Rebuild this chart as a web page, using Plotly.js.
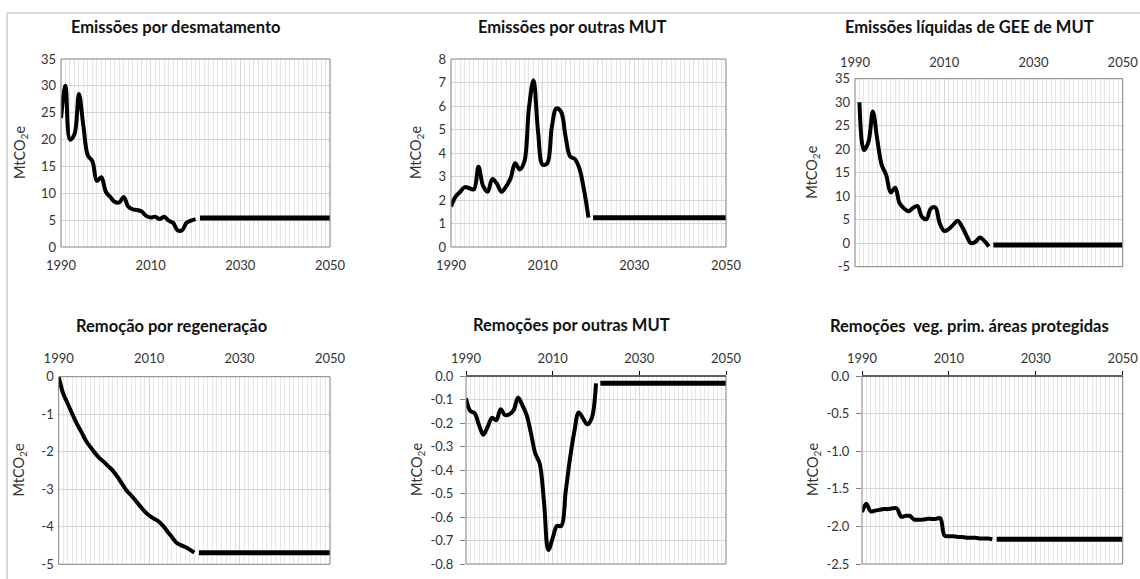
<!DOCTYPE html>
<html>
<head>
<meta charset="utf-8">
<script src="https://cdn.plot.ly/plotly-3.0.1.min.js"></script>
<style>html,body{margin:0;padding:0;background:#fff;}#chart{width:1140px;height:579px;}</style>
</head>
<body>
<div id="chart"></div>
<script>
// ---------- DATA ----------
const histYears = [1990,1991,1992,1993,1994,1995,1996,1997,1998,1999,2000,2001,2002,2003,2004,2005,2006,2007,2008,2009,2010,2011,2012,2013,2014,2015,2016,2017,2018,2019,2020];
const netYears  = [1991,1992,1993,1994,1995,1996,1997,1998,1999,2000,2001,2002,2003,2004,2005,2006,2007,2008,2009,2010,2011,2012,2013,2014,2015,2016,2017,2018,2019,2020];
const projYears = [2021, 2050];

const desmatamento = [24,30,20,21,28.5,22.5,17,16,12.3,13,10.3,9.3,8.4,8.3,9.3,7.5,7.0,6.9,6.6,5.8,5.5,5.65,5.2,5.65,4.9,4.5,3.1,3.1,4.5,4.9,5.2];
const desmatamentoProj = [5.4, 5.4];

const outrasMUT = [1.72,2.14,2.35,2.55,2.5,2.45,3.42,2.6,2.35,2.89,2.7,2.35,2.57,2.92,3.56,3.3,3.63,5.9,7.1,4.9,3.5,3.56,5.1,5.9,5.76,4.7,3.85,3.75,3.35,2.45,1.25];
const outrasMUTProj = [1.25, 1.25];

const liquidas = [30,19.8,21.5,28,22,16.6,14.5,10.8,11.8,8.5,7.4,6.8,7.5,7.9,5.6,5.1,7.4,7.6,4.2,2.6,3.0,3.9,4.8,3.5,1.6,0.0,0.3,1.2,0.5,-0.7];
const liquidasProj = [-0.38, -0.38];

const regeneracao = [0,-0.45,-0.72,-0.99,-1.25,-1.47,-1.7,-1.87,-2.03,-2.17,-2.27,-2.39,-2.51,-2.67,-2.85,-3.03,-3.16,-3.3,-3.45,-3.59,-3.7,-3.78,-3.85,-3.96,-4.12,-4.27,-4.42,-4.49,-4.54,-4.61,-4.69];
const regeneracaoProj = [-4.69, -4.69];

const remOutras = [-0.095,-0.149,-0.159,-0.209,-0.25,-0.216,-0.178,-0.188,-0.141,-0.166,-0.163,-0.145,-0.092,-0.124,-0.166,-0.244,-0.33,-0.372,-0.535,-0.74,-0.69,-0.638,-0.638,-0.493,-0.351,-0.237,-0.155,-0.18,-0.206,-0.18,-0.031];
const remOutrasProj = [-0.031, -0.031];

const protegidas = [-1.81,-1.70,-1.80,-1.79,-1.78,-1.77,-1.77,-1.76,-1.76,-1.87,-1.86,-1.86,-1.91,-1.91,-1.91,-1.9,-1.9,-1.9,-1.89,-2.12,-2.13,-2.13,-2.14,-2.14,-2.15,-2.15,-2.15,-2.16,-2.16,-2.16,-2.17];
const protegidasProj = [-2.17, -2.17];

// tick labels
const xTickVals = [1990, 2010, 2030, 2050];
const xTickText = ['1990', '2010', '2030', '2050'];
const y1TickVals = [0,5,10,15,20,25,30,35];
const y1TickText = ['0','5','10','15','20','25','30','35'];
const y2TickVals = [0,1,2,3,4,5,6,7,8];
const y2TickText = ['0','1','2','3','4','5','6','7','8'];
const y3TickVals = [-5,0,5,10,15,20,25,30,35];
const y3TickText = ['-5','0','5','10','15','20','25','30','35'];
const y4TickVals = [-5,-4,-3,-2,-1,0];
const y4TickText = ['-5','-4','-3','-2','-1','0'];
const y5TickVals = [-0.8,-0.7,-0.6,-0.5,-0.4,-0.3,-0.2,-0.1,0];
const y5TickText = ['-0.8','-0.7','-0.6','-0.5','-0.4','-0.3','-0.2','-0.1','0.0'];
const y6TickVals = [-2.5,-2.0,-1.5,-1.0,-0.5,0];
const y6TickText = ['-2.5','-2.0','-1.5','-1.0','-0.5','0.0'];

const titles = ['Emissões por desmatamento','Emissões por outras MUT','Emissões líquidas de GEE de MUT',
                'Remoção por regeneração','Remoções por outras MUT','Remoções\u00a0 veg. prim. áreas protegidas'];
const yTitle = 'MtCO<sub>2</sub>e';

// ---------- LAYOUT ----------
const W = 1140, H = 579;
const FONT = 'Lato, "Open Sans", sans-serif';
const panels = [
  {hx: histYears, hy: desmatamento, py: desmatamentoProj, yr:[0,35], tv:y1TickVals, tt:y1TickText, box:[61,330,59,247], side:'bottom', xso:9, title:[175,27], ytl:20, crossTop:false},
  {hx: histYears, hy: outrasMUT, py: outrasMUTProj, yr:[0,8], tv:y2TickVals, tt:y2TickText, box:[451,726,59,247], side:'bottom', xso:9, title:[572,27], ytl:416, crossTop:false},
  {hx: netYears, hy: liquidas, py: liquidasProj, yr:[-5,35], tv:y3TickVals, tt:y3TickText, box:[855,1122.7,78.7,266.7], side:'top', xso:8, title:[969,27], ytl:813, crossTop:false},
  {hx: histYears, hy: regeneracao, py: regeneracaoProj, yr:[-5,0], tv:y4TickVals, tt:y4TickText, box:[58.7,330,376.7,564.3], side:'top', xso:10, title:[171,326], ytl:19, crossTop:false},
  {hx: histYears, hy: remOutras, py: remOutrasProj, yr:[-0.8,0], tv:y5TickVals, tt:y5TickText, box:[466,726,376,564], side:'top', xso:3, title:[571,325], ytl:417, crossTop:true},
  {hx: histYears, hy: protegidas, py: protegidasProj, yr:[-2.5,0], tv:y6TickVals, tt:y6TickText, box:[862,1122.7,376,564], side:'top', xso:3, title:[969,326], ytl:813, crossTop:true}
];

const data = [];
const layout = {
  width: W, height: H,
  margin: {l:0, r:0, t:0, b:0},
  paper_bgcolor: '#ffffff', plot_bgcolor: '#ffffff',
  showlegend: false,
  font: {family: FONT, color: '#333333', size: 13},
  annotations: [], shapes: []
};

panels.forEach((p, i) => {
  const n = i + 1;
  const xa = n === 1 ? 'x' : 'x' + n;
  const ya = n === 1 ? 'y' : 'y' + n;
  const [l, r, t, b] = p.box;
  data.push({x: p.hx, y: p.hy, xaxis: xa, yaxis: ya, type: 'scatter', mode: 'lines',
             line: {color: '#000000', width: 4, shape: 'spline', smoothing: 1}, hoverinfo: 'skip'});
  data.push({x: projYears, y: p.py, xaxis: xa, yaxis: ya, type: 'scatter', mode: 'lines',
             line: {color: '#000000', width: 5}, hoverinfo: 'skip'});
  layout['xaxis' + (n === 1 ? '' : n)] = {
    domain: [l / W, r / W], anchor: ya, range: [1990, 2050], side: p.side,
    tickmode: 'array', tickvals: xTickVals, ticktext: xTickText,
    showgrid: true, gridcolor: '#d6d6d6', gridwidth: 1,
    minor: {tickmode: 'linear', tick0: 1990, dtick: 1, showgrid: true, gridcolor: '#e6e6e6', gridwidth: 1},
    zeroline: false, showline: false,
    ticks: p.crossTop ? 'outside' : '', ticklen: 4, tickcolor: '#000000',
    ticklabelstandoff: p.xso,
    tickfont: {family: FONT, size: 13, color: '#333333'}, fixedrange: true
  };
  layout['yaxis' + (n === 1 ? '' : n)] = {
    domain: [1 - b / H, 1 - t / H], anchor: xa, range: p.yr,
    tickmode: 'array', tickvals: p.tv, ticktext: p.tt,
    showgrid: true, gridcolor: '#d6d6d6', gridwidth: 1,
    zeroline: false, showline: false,
    ticks: p.crossTop ? 'outside' : '', ticklen: 5, tickcolor: '#7f7f7f',
    ticklabelstandoff: 4,
    tickfont: {family: FONT, size: 13, color: '#333333'}, fixedrange: true
  };
  layout.shapes.push({type: 'rect', xref: xa + ' domain', yref: ya + ' domain', x0: 0, x1: 1, y0: 0, y1: 1,
                      line: {color: '#7f7f7f', width: 1}, layer: 'above'});
  if (p.crossTop) {
    layout.shapes.push({type: 'line', xref: xa + ' domain', yref: ya + ' domain', x0: 0, x1: 1, y0: 1, y1: 1,
                        line: {color: '#000000', width: 1.2}, layer: 'above'});
  }
  layout.annotations.push({text: '<b>' + titles[i] + '</b>', xref: 'paper', yref: 'paper',
    x: p.title[0] / W, y: 1 - p.title[1] / H, xanchor: 'center', yanchor: 'middle', showarrow: false,
    font: {family: FONT, size: 16.5, color: '#111111'}});
  layout.annotations.push({text: yTitle, xref: 'paper', yref: 'paper', textangle: -90,
    x: p.ytl / W, y: 1 - ((t + b) / 2) / H, xanchor: 'center', yanchor: 'middle', showarrow: false,
    font: {family: FONT, size: 14.5, color: '#333333'}});
});

// outer frame (top and left edges)
layout.shapes.push({type: 'line', xref: 'paper', yref: 'paper', x0: 7 / W, x1: 1, y0: 1 - 13 / H, y1: 1 - 13 / H,
                    line: {color: '#d9d9d9', width: 2}});
layout.shapes.push({type: 'line', xref: 'paper', yref: 'paper', x0: 7 / W, x1: 7 / W, y0: 0, y1: 1 - 13 / H,
                    line: {color: '#d9d9d9', width: 2}});

Plotly.newPlot('chart', data, layout, {staticPlot: true, displayModeBar: false});
</script>
</body>
</html>
